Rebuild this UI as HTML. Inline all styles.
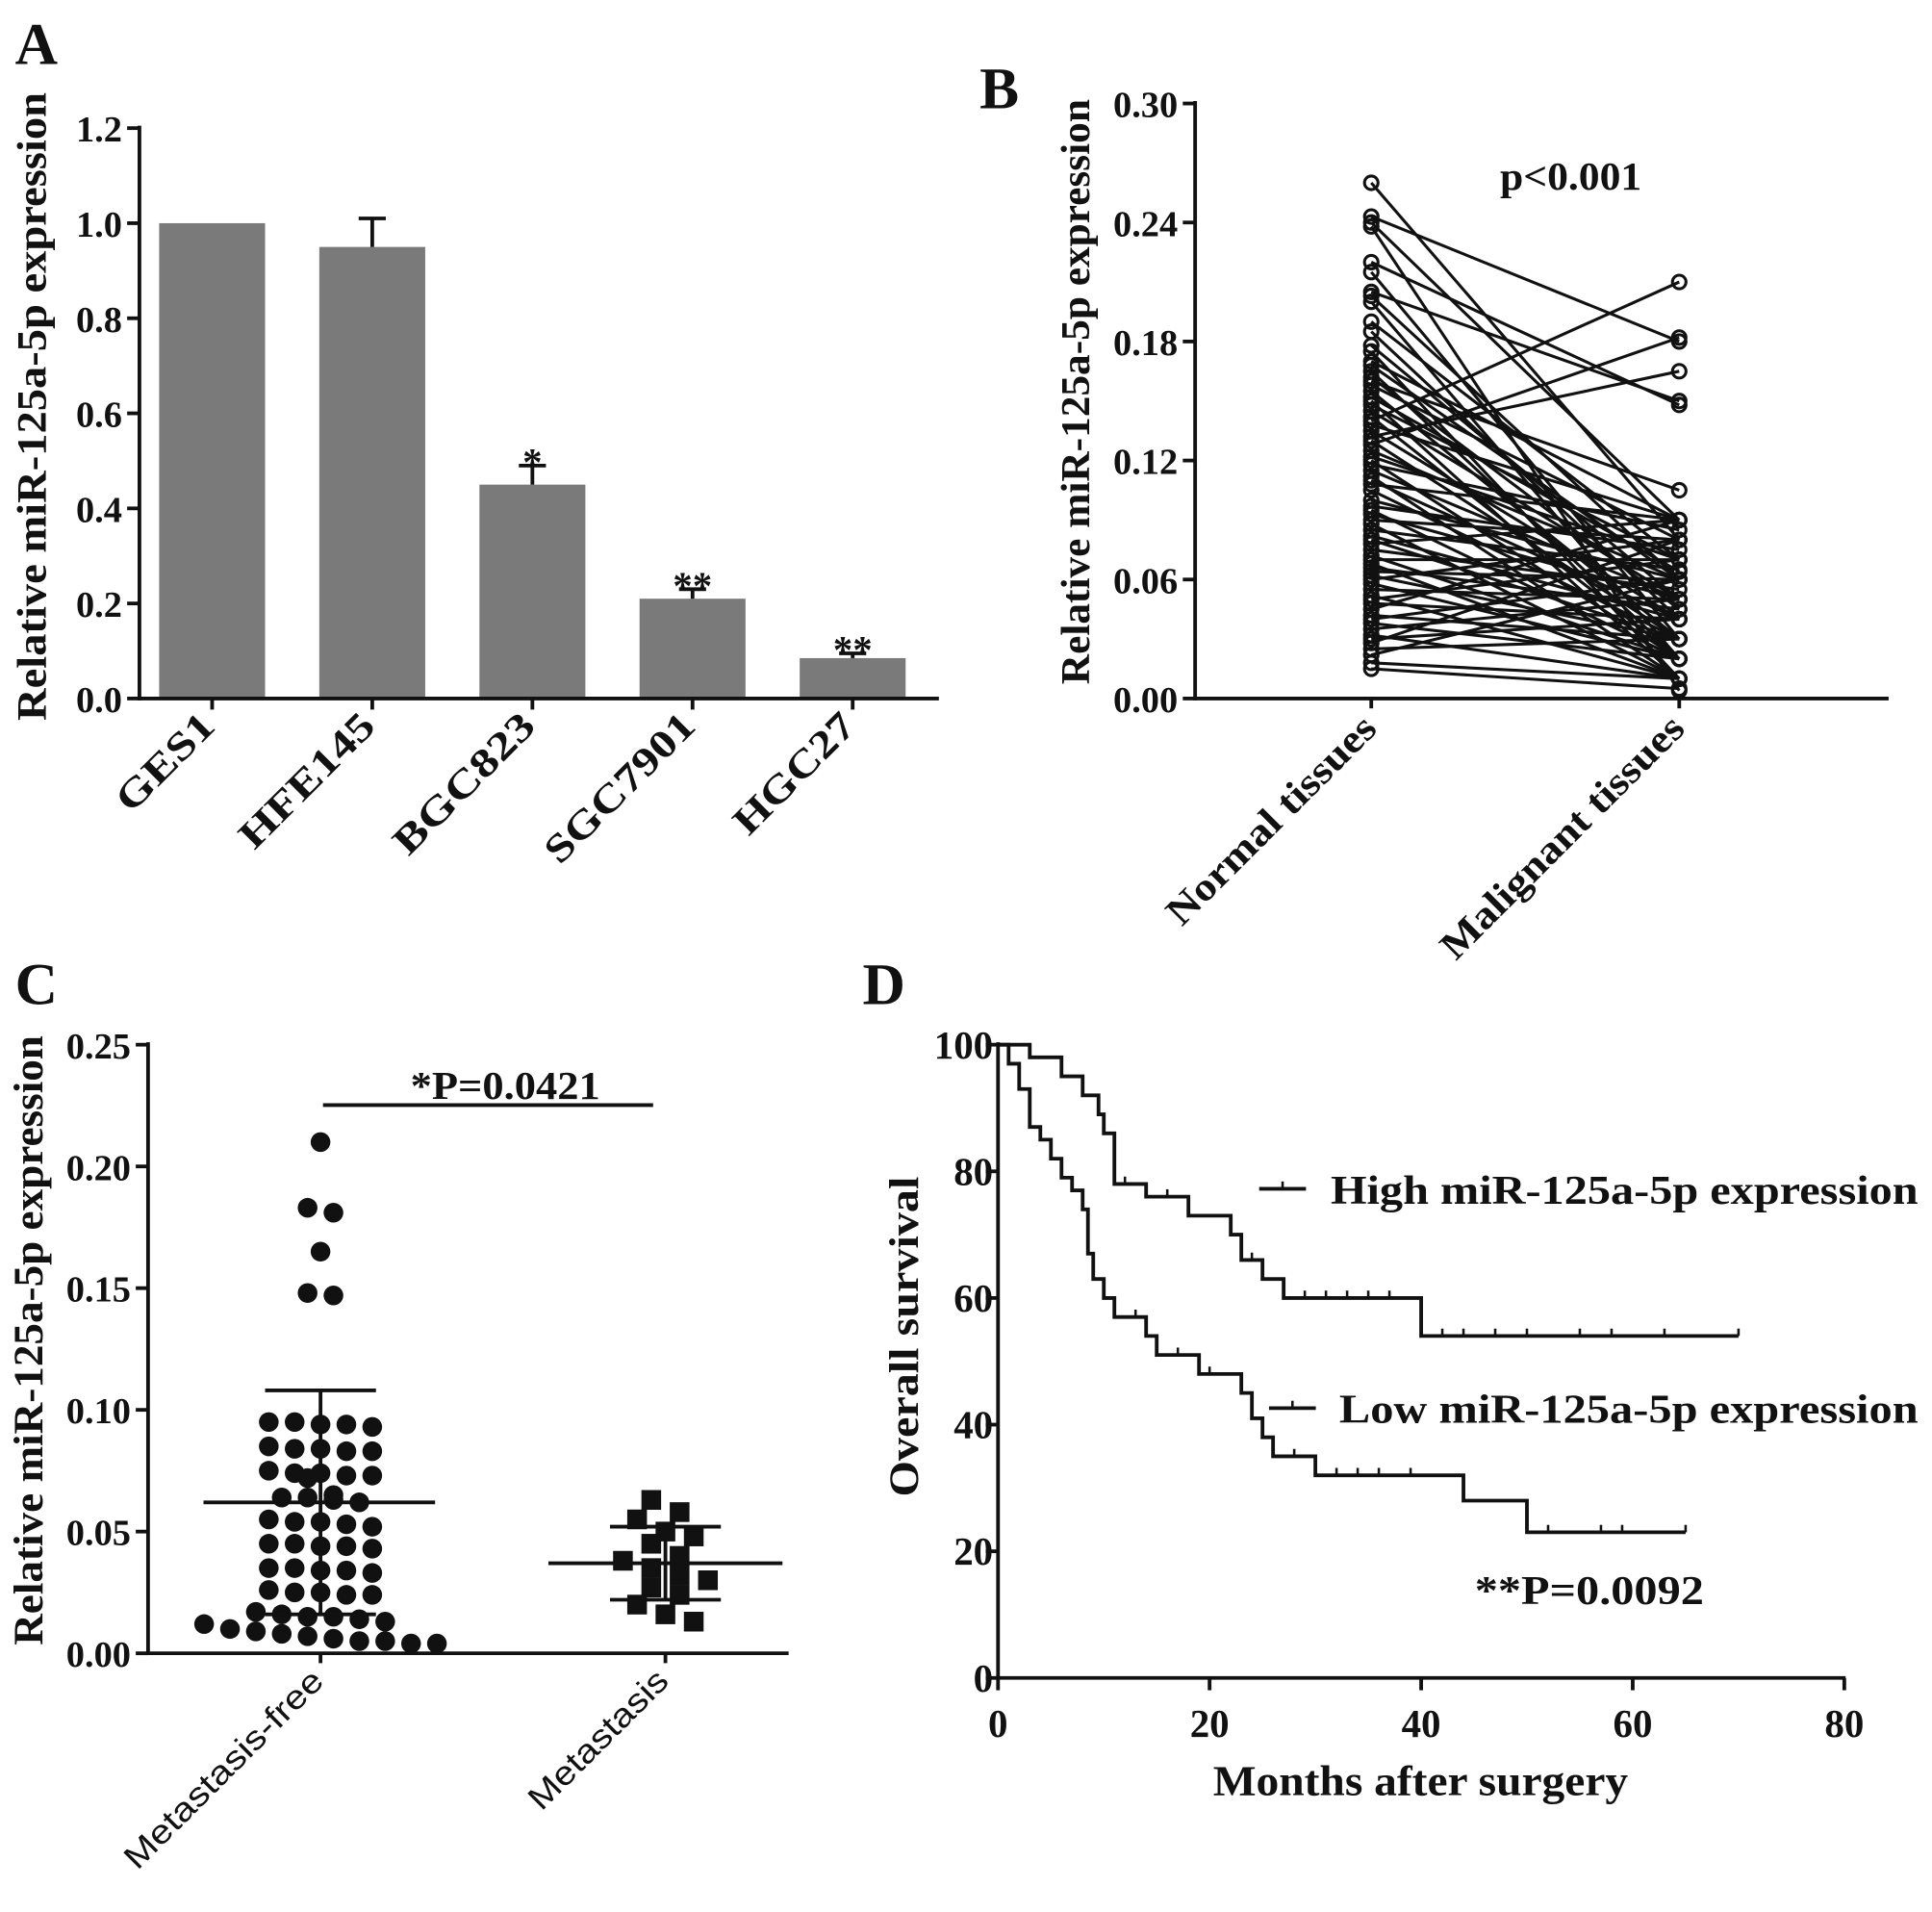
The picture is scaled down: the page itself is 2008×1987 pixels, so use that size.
<!DOCTYPE html>
<html><head><meta charset="utf-8"><style>
html,body{margin:0;padding:0;background:#fff}
svg{display:block}
text{font-family:"Liberation Serif",serif;font-weight:bold;fill:#111}
.sans{font-family:"Liberation Sans",sans-serif;font-weight:normal}
</style></head><body>
<svg id="fig" width="2008" height="1987" viewBox="0 0 1568 1552" xmlns="http://www.w3.org/2000/svg">
<g id="pA"></g>
<g id="pB"></g>
<g id="pC"></g>
<g id="pD"></g>
</svg>
<script>
// ---- Panel A data
const aCats=["GES1","HFE145","BGC823","SGC7901","HGC27"];
const aVals=[1.0,0.95,0.45,0.21,0.085];
const aErr=[0,0.06,0.04,0.02,0.01];
const aStars=["","","*","**","**"];
const aTicks=["0.0","0.2","0.4","0.6","0.8","1.0","1.2"];
// ---- Panel B data
const bNormal=[0.26,0.243,0.24,0.238,0.22,0.215,0.205,0.203,0.2,0.19,0.185,0.178,0.175,0.17,0.168,0.165,0.162,0.16,0.158,0.155,0.152,0.15,0.148,0.145,0.142,0.14,0.138,0.135,0.132,0.13,0.128,0.125,0.122,0.12,0.118,0.115,0.112,0.11,0.108,0.105,0.1,0.097,0.095,0.093,0.09,0.088,0.085,0.082,0.08,0.078,0.075,0.072,0.07,0.068,0.066,0.064,0.062,0.06,0.058,0.055,0.052,0.05,0.048,0.045,0.042,0.04,0.038,0.035,0.032,0.03,0.028,0.025,0.022,0.018,0.015];
const bMalig=[0.08,0.18,0.09,0.004,0.148,0.03,0.15,0.06,0.02,0.07,0.04,0.05,0.01,0.09,0.06,0.02,0.045,0.105,0.08,0.03,0.064,0.01,0.07,0.05,0.02,0.21,0.09,0.04,0.165,0.03,0.182,0.06,0.07,0.02,0.085,0.05,0.01,0.04,0.09,0.03,0.06,0.075,0.02,0.05,0.08,0.01,0.065,0.04,0.03,0.09,0.055,0.02,0.07,0.01,0.045,0.06,0.03,0.08,0.02,0.05,0.01,0.07,0.04,0.09,0.03,0.06,0.02,0.05,0.01,0.04,0.08,0.03,0.06,0.01,0.005];
const bCats=["Normal tissues","Malignant tissues"];
const bTicks=["0.00","0.06","0.12","0.18","0.24","0.30"];
// ---- Panel C data
const cFree=[0.21,0.183,0.181,0.165,0.148,0.147,0.095,0.095,0.094,0.094,0.093,0.085,0.084,0.084,0.083,0.083,0.075,0.074,0.074,0.073,0.073,0.072,0.065,0.064,0.064,0.063,0.062,0.055,0.054,0.054,0.053,0.052,0.045,0.045,0.044,0.044,0.043,0.035,0.035,0.034,0.034,0.033,0.026,0.025,0.025,0.024,0.024,0.017,0.016,0.015,0.015,0.014,0.013,0.012,0.01,0.009,0.008,0.007,0.006,0.005,0.005,0.004,0.004];
const cMet=[0.063,0.058,0.055,0.05,0.048,0.045,0.04,0.038,0.035,0.032,0.03,0.027,0.024,0.02,0.016,0.013];
const cMean=[0.062,0.037];
const cSD=[0.046,0.015];
const cTicks=["0.00","0.05","0.10","0.15","0.20","0.25"];
// ---- Panel D data
const dHighT=[0,3,6,8,9.5,10,11,14,18,22,23,25,27,40,70];
const dHighS=[100,98,95,92,89,86,78,76,73,70,66,63,60,54,54];
const dLowT=[0,1,2,3,4,5,6,7,8,8.5,9,10,11,14,15,19,23,24,25,26,30,44,50,65];
const dLowS=[100,97,93,87,85,82,79,77,74,67,63,60,57,54,51,48,45,41,38,35,32,28,23,23];
const dHighCens=[12,16,24,29,31,33,35,37,42,44,47,50,55,58,63,70];
const dLowCens=[13,17,20,28,32,34,36,39,52,57,59,65];
const dXTicks=[0,20,40,60,80];
const dYTicks=[0,20,40,60,80,100];

const NS="http://www.w3.org/2000/svg";
function el(p,tag,at,txt){const e=document.createElementNS(NS,tag);for(const k in at)e.setAttribute(k,at[k]);if(txt!=null)e.textContent=txt;p.appendChild(e);return e;}
function ln(p,x1,y1,x2,y2,w,name){const e=el(p,'line',{x1,y1,x2,y2,stroke:'#111','stroke-width':w||3});

return e;}
function tx(p,x,y,s,size,anchor,name,extra){const e=el(p,'text',Object.assign({x,y,'font-size':size,'text-anchor':anchor||'start'},extra||{}),s);

return e;}
const LA={lengthAdjust:'spacingAndGlyphs'};
function fit(len,extra){return Object.assign({textLength:len},LA,extra||{});}

// ===== Panel A
(function(){const g=document.getElementById('pA');
const y0=567,y1=104,ax=113;const Y=v=>y0-(v/1.2)*(y0-y1);const X=i=>172+i*130;
const aLen=[99,141,148,158,125];
tx(g,12,52,"A",48,'start','panel-label-a');
tx(g,0,0,"Relative miR-125a-5p expression",34,'middle','y-axis-title',fit(510,{transform:'translate(37,330) rotate(-90)'}));
aVals.forEach((v,i)=>{const r=el(g,'rect',{x:X(i)-43,y:Y(v),width:86,height:y0-Y(v),fill:'#7a7a7a'});


if(aErr[i]>0){ln(g,X(i),Y(v),X(i),Y(v+aErr[i]),3,'error-bar');ln(g,X(i)-11,Y(v+aErr[i]),X(i)+11,Y(v+aErr[i]),3,'error-cap');}
if(aStars[i])tx(g,X(i),Y(v+aErr[i])+8,aStars[i],32,'middle','significance-star');
ln(g,X(i),y0,X(i),y0+9,3,'x-tick');
tx(g,0,0,aCats[i],32,'end','x-tick-label',fit(aLen[i],{transform:`translate(${X(i)+4},${y0+24}) rotate(-45)`}));});
ln(g,ax,y1-2,ax,y0+1.5,3);ln(g,ax-1.5,y0,762,y0,3);
aTicks.forEach((t,i)=>{const y=Y(i*0.2);ln(g,ax-10,y,ax,y,3,'y-tick');tx(g,ax-14,y+11,t,30,'end','y-tick-label');});
})();

// ===== Panel B
(function(){const g=document.getElementById('pB');
const y0=567,y1=84,ax=970;const Y=v=>y0-(v/0.3)*(y0-y1);const xs=[1113,1363];
tx(g,795,88,"B",48,'start','panel-label-b');
tx(g,0,0,"Relative miR-125a-5p expression",33,'middle','y-axis-title',fit(475,{transform:'translate(884,318) rotate(-90)'}));
tx(g,1275,154,"p<0.001",32,'middle','p-value-label',fit(115));
bNormal.forEach((v,i)=>{ln(g,xs[0],Y(v),xs[1],Y(bMalig[i]),2.4,'pair-line');});
bNormal.forEach((v,i)=>{
const c1=el(g,'circle',{cx:xs[0],cy:Y(v),r:5.5,fill:'none',stroke:'#111','stroke-width':2.4});


const c2=el(g,'circle',{cx:xs[1],cy:Y(bMalig[i]),r:5.5,fill:'none',stroke:'#111','stroke-width':2.4});

});
ln(g,ax,y1-2,ax,y0+1.5,3);ln(g,ax-1.5,y0,1533,y0,3);
bTicks.forEach((t,i)=>{const y=Y(i*0.06);ln(g,ax-10,y,ax,y,3,'y-tick');tx(g,ax-14,y+11,t,30,'end','y-tick-label');});
const bLen=[226,265];
bCats.forEach((c,i)=>{ln(g,xs[i],y0,xs[i],y0+8,3,'x-tick');tx(g,0,0,c,32,'end','x-tick-label',fit(bLen[i],{transform:`translate(${xs[i]+6},${y0+26}) rotate(-45)`}));});
})();

// ===== Panel C
(function(){const g=document.getElementById('pC');
const y0=1342,y1=848,ax=120;const Y=v=>y0-(v/0.25)*(y0-y1);const xs=[260,540];
tx(g,12,815,"C",48,'start','panel-label-c');
tx(g,0,0,"Relative miR-125a-5p expression",34,'middle','y-axis-title',fit(495,{transform:'translate(34,1088) rotate(-90)'}));
function swarm(vals,cx,step,shape,name){const rows={};vals.forEach(v=>{const k=Math.round(Y(v)/17);(rows[k]=rows[k]||[]).push(v);});
Object.values(rows).forEach(arr=>{const n=arr.length;arr.forEach((v,j)=>{const off=(j-(n-1)/2)*step;const x=cx+off,y=Y(v);
let m;if(shape==='c')m=el(g,'circle',{cx:x,cy:y,r:8,fill:'#111'});else m=el(g,'rect',{x:x-8,y:y-8,width:16,height:16,fill:'#111'});

});});}
swarm(cFree,xs[0],21,'c','metastasis-free-point');
swarm(cMet,xs[1],23,'s','metastasis-point');
[[165,353],[445,635]].forEach((w,i)=>{ln(g,w[0],Y(cMean[i]),w[1],Y(cMean[i]),3,'mean-line');
const hi=Y(cMean[i]+cSD[i]),lo=Y(cMean[i]-cSD[i]);ln(g,xs[i],hi,xs[i],lo,3,'sd-bar');
ln(g,xs[i]-45,hi,xs[i]+45,hi,3,'sd-cap');ln(g,xs[i]-45,lo,xs[i]+45,lo,3,'sd-cap');});
ln(g,262,897,530,897,3,'significance-bar');
tx(g,410,892,"*P=0.0421",32,'middle','p-value-label',fit(154));
ln(g,ax,y1-2,ax,y0+1.5,3);ln(g,ax-1.5,y0,640,y0,3);
cTicks.forEach((t,i)=>{const y=Y(i*0.05);ln(g,ax-10,y,ax,y,3,'y-tick');tx(g,ax-14,y+11,t,30,'end','y-tick-label');});
const cLen=[216,148];
["Metastasis-free","Metastasis"].forEach((c,i)=>{ln(g,xs[i],y0,xs[i],y0+8,3,'x-tick');const t=tx(g,0,0,c,27,'end','x-tick-label',fit(cLen[i],{transform:`translate(${xs[i]+4},${y0+24}) rotate(-45)`}));t.setAttribute('class','sans');});
})();

// ===== Panel D
(function(){const g=document.getElementById('pD');
const x0=810,y0=1362,y1=848;const X=m=>x0+m*(1497-x0)/80;const Y=s=>y0-s*(y0-y1)/100;
tx(g,700,815,"D",48,'start','panel-label-d');
tx(g,0,0,"Overall survival",34,'middle','y-axis-title',fit(260,{transform:'translate(745,1085) rotate(-90)'}));
tx(g,1153,1457,"Months after surgery",35,'middle','x-axis-title',fit(337));
function km(T,S,name){let d=`M${X(T[0])},${Y(S[0])}`;for(let i=1;i<T.length;i++){d+=` H${X(T[i])} V${Y(S[i])}`;}
const p=el(g,'path',{d,fill:'none',stroke:'#111','stroke-width':3});

return t=>{let s=S[0];for(let i=0;i<T.length;i++)if(T[i]<=t)s=S[i];return s;};}
const fh=km(dHighT,dHighS,'high-expression-curve');const fl=km(dLowT,dLowS,'low-expression-curve');
dHighCens.forEach(t=>ln(g,X(t),Y(fh(t))-6,X(t),Y(fh(t)),2,'censor-mark'));
dLowCens.forEach(t=>ln(g,X(t),Y(fl(t))-6,X(t),Y(fl(t)),2,'censor-mark'));
ln(g,1022,965,1060,965,3,'legend-line-high');ln(g,1041,959,1041,965,2,'legend-censor');
tx(g,1080,977,"High miR-125a-5p expression",33,'start','legend-entry-high',fit(477));
ln(g,1030,1143,1068,1143,3,'legend-line-low');ln(g,1049,1137,1049,1143,2,'legend-censor');
tx(g,1087,1155,"Low miR-125a-5p expression",33,'start','legend-entry-low',fit(470));
tx(g,1290,1302,"**P=0.0092",33,'middle','p-value-label',fit(186));
ln(g,x0,y1-2,x0,y0+1.5,3);ln(g,x0-1.5,y0,1498,y0,3);
dYTicks.forEach(v=>{ln(g,x0-10,Y(v),x0,Y(v),3,'y-tick');tx(g,x0-4,Y(v)+11,String(v),32,'end','y-tick-label');});
dXTicks.forEach(v=>{ln(g,X(v),y0,X(v),y0+10,3,'x-tick');tx(g,X(v),y0+48,String(v),32,'middle','x-tick-label');});
})();
</script>
</body></html>
